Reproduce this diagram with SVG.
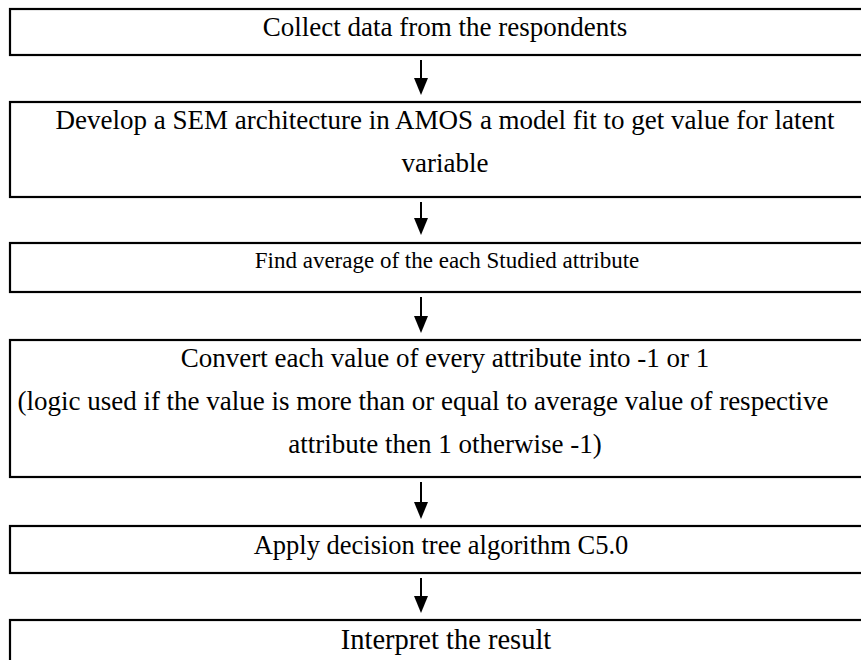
<svg xmlns="http://www.w3.org/2000/svg" width="861" height="660" viewBox="0 0 861 660">
<defs>
<style>
.box{fill:#fff;stroke:#000;stroke-width:2.2}
.t{font-family:"Liberation Serif","Times New Roman",serif;font-size:27px;fill:#000;text-anchor:middle}
.c{stroke:#000;stroke-width:2;fill:none}
.h{fill:#000}
</style>
</defs>
<rect width="861" height="660" fill="#fff"/>
<g id="connectors">
<line class="c" x1="421" y1="60" x2="421" y2="79"/>
<path class="h" d="M414,78 L428,78 L421,95 Z"/>
<line class="c" x1="421" y1="202" x2="421" y2="219"/>
<path class="h" d="M414,218 L428,218 L421,235 Z"/>
<line class="c" x1="421" y1="297" x2="421" y2="317"/>
<path class="h" d="M414,316 L428,316 L421,333 Z"/>
<line class="c" x1="421" y1="482" x2="421" y2="503"/>
<path class="h" d="M414,502 L428,502 L421,519 Z"/>
<line class="c" x1="421" y1="578" x2="421" y2="597"/>
<path class="h" d="M414,596 L428,596 L421,613 Z"/>
</g>
<g id="n1"><rect class="box" x="10" y="9" width="860" height="46"/><text class="t" x="445" y="36">Collect data from the respondents</text></g>
<g id="n2"><rect class="box" x="10" y="102" width="860" height="95"/><text class="t" x="445" y="129">Develop a SEM architecture in AMOS a model fit to get value for latent</text><text class="t" x="445" y="172">variable</text></g>
<g id="n3"><rect class="box" x="10" y="243" width="860" height="49"/><text class="t" x="447" y="268" style="font-size:23px">Find average of the each Studied attribute</text></g>
<g id="n4"><rect class="box" x="10" y="340" width="860" height="137"/><text class="t" x="445" y="367">Convert each value of every attribute into -1 or 1</text><text class="t" x="423" y="410">(logic used if the value is more than or equal to average value of respective</text><text class="t" x="445" y="453">attribute then 1 otherwise -1)</text></g>
<g id="n5"><rect class="box" x="10" y="526" width="860" height="47"/><text class="t" x="441" y="554" style="font-size:26.5px">Apply decision tree algorithm C5.0</text></g>
<g id="n6"><rect class="box" x="10" y="620" width="860" height="70"/><text class="t" x="446" y="649" style="font-size:28.5px">Interpret the result</text></g>
</svg>
